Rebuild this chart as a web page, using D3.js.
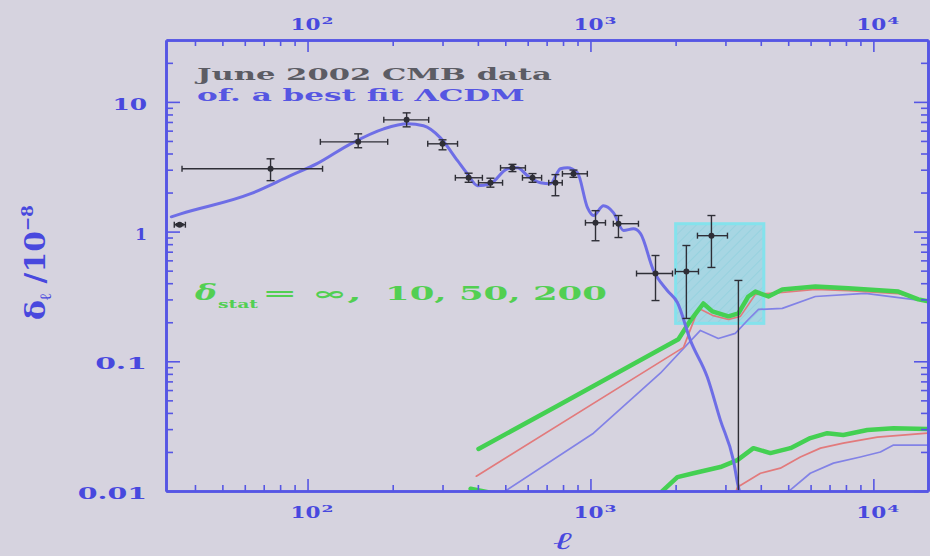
<!DOCTYPE html>
<html>
<head>
<meta charset="utf-8">
<script src="https://cdn.jsdelivr.net/npm/d3@7"></script>
<style>
  html, body { margin: 0; padding: 0; background: #d6d3df; }
  svg { display: block; }
</style>
</head>
<body>
<svg id="chart" width="930" height="556"></svg>
<script>
// ---- axis ticks -------------------------------------------------------
const xTickValues = [100, 1000, 10000];
const xTickExponents = ["2", "3", "4"];
const yTickValues = [0.01, 0.1, 1, 10];
const yTickLabels = ["0.01", "0.1", "1", "10"];

// ---- June 2002 bandpowers (multipole, range, amplitude, error range) ----
const bandL   = [35.3, 74, 151, 224, 300, 371, 443, 530, 624, 752, 871, 1042, 1256, 1698, 2183, 2677, 3334];
const bandLlo = [33.8, 36, 111, 186, 266, 333, 402, 481, 575, 712, 796, 960, 1205, 1455, 1995, 2389, 3334];
const bandLhi = [37.0, 113, 192, 268, 339, 415, 489, 589, 672, 795, 975, 1130, 1478, 1950, 2409, 3050, 3334];
const bandV   = [1.13, 3.05, 4.92, 7.27, 4.75, 2.60, 2.38, 3.10, 2.60, 2.38, 2.79, 1.17, 1.15, 0.475, 0.492, 0.93, 0.004];
const bandVlo = [1.11, 2.47, 4.43, 6.42, 4.27, 2.40, 2.20, 2.90, 2.40, 1.89, 2.62, 0.85, 0.90, 0.294, 0.214, 0.529, 0.0005];
const bandVhi = [1.15, 3.64, 5.67, 8.23, 5.10, 2.82, 2.58, 3.30, 2.80, 2.75, 2.98, 1.45, 1.33, 0.654, 0.781, 1.33, 0.42];

// ---- best fit ΛCDM spectrum ------------------------------------------------
const lcdmL = [33, 35.6, 63, 87, 108, 142, 186, 226, 257, 295, 339, 367, 399, 443, 509, 552, 599, 666, 722, 783, 829, 900, 976, 1025, 1112, 1205, 1309, 1419, 1503, 1671, 1872, 2029, 2256, 2590, 2879, 3200, 3334, 3420];
const lcdmV = [1.30, 1.37, 1.96, 2.70, 3.34, 4.75, 6.20, 6.77, 6.54, 5.28, 3.52, 2.79, 2.26, 2.34, 3.05, 3.11, 2.70, 2.38, 2.34, 3.05, 3.11, 2.84, 1.53, 1.33, 1.58, 1.40, 1.02, 1.05, 0.965, 0.50, 0.35, 0.284, 0.145, 0.0753, 0.0352, 0.0173, 0.0107, 0.009];

// ---- secondary spectra, upper family ------------------------------------
const greenHiL = [402, 783, 1352, 2046, 2256, 2506, 2698, 3073, 3334, 3615, 3829, 4256, 4766, 6237, 8161, 12250, 14420, 15630];
const greenHiV = [0.0211, 0.0467, 0.090, 0.1477, 0.206, 0.279, 0.2425, 0.222, 0.234, 0.316, 0.345, 0.316, 0.358, 0.378, 0.365, 0.345, 0.300, 0.290];
const redHiL   = [395, 2133, 2409, 2698, 3073, 3388, 3829, 4766, 6237, 8161, 12250, 15630];
const redHiV   = [0.0130, 0.128, 0.256, 0.226, 0.210, 0.222, 0.328, 0.339, 0.358, 0.351, 0.333, 0.284];
const blueHiL  = [493, 1025, 1766, 2447, 2832, 3251, 3615, 3926, 4766, 6237, 9375, 15630];
const blueHiV  = [0.0098, 0.0279, 0.0809, 0.173, 0.150, 0.164, 0.210, 0.251, 0.256, 0.316, 0.334, 0.290];

// ---- secondary spectra, lower family ------------------------------------
const greenLoL = [377, 443, 700, 1300, 1766, 2029, 2312, 2879, 3306, 3767, 4325, 5093, 5984, 6871, 7829, 9524, 11780, 15520];
const greenLoV = [0.0104, 0.0097, 0.0090, 0.0093, 0.00966, 0.0128, 0.0137, 0.0153, 0.0173, 0.0214, 0.0196, 0.0214, 0.0256, 0.0279, 0.0270, 0.0295, 0.0305, 0.0300];
const redLoL   = [3251, 3306, 3990, 4690, 5521, 6502, 7829, 10330, 15520];
const redLoV   = [0.0095, 0.0107, 0.0137, 0.0150, 0.0183, 0.0214, 0.0234, 0.0260, 0.0279];
const blueLoL  = [4870, 5093, 5984, 7228, 8995, 10590, 11780, 15520];
const blueLoV  = [0.0097, 0.0102, 0.0137, 0.0164, 0.0183, 0.0200, 0.0226, 0.0226];

// ---- highlighted window ---------------------------------------------------
const boxL = [2000, 4100];
const boxV = [0.196, 1.15];

// ====================================================================
const svg = d3.select("#chart");
const frame = { left: 166, right: 928, top: 40, bottom: 491 };

const x = d3.scaleLog().domain([31.6, 15600]).range([frame.left, frame.right]);
const y = d3.scaleLog().domain([0.01, 30]).range([frame.bottom, frame.top]);

const axisBlue = "#5656e4";
const labelBlue = "#4848de";

svg.append("rect").attr("width", 930).attr("height", 556).attr("fill", "#d6d3df");

const defs = svg.append("defs");
defs.append("clipPath").attr("id", "plotClip")
  .append("rect")
  .attr("x", frame.left).attr("y", frame.top)
  .attr("width", frame.right - frame.left).attr("height", frame.bottom - frame.top);

const hatch = defs.append("pattern").attr("id", "hatch")
  .attr("patternUnits", "userSpaceOnUse").attr("width", 7).attr("height", 7)
  .attr("patternTransform", "rotate(45)");
hatch.append("line").attr("x1", 0).attr("y1", 0).attr("x2", 0).attr("y2", 7)
  .attr("stroke", "#8ccfdc").attr("stroke-width", 1.6);

const plot = svg.append("g").attr("clip-path", "url(#plotClip)");

// highlighted window
const bx = x(boxL[0]), bw = x(boxL[1]) - x(boxL[0]);
const by = y(boxV[1]), bh = y(boxV[0]) - y(boxV[1]);
plot.append("rect").attr("x", bx).attr("y", by).attr("width", bw).attr("height", bh)
  .attr("fill", "rgba(120,218,232,0.5)");
plot.append("rect").attr("x", bx).attr("y", by).attr("width", bw).attr("height", bh)
  .attr("fill", "url(#hatch)").attr("opacity", 0.8);
plot.append("rect").attr("x", bx).attr("y", by).attr("width", bw).attr("height", bh)
  .attr("fill", "none").attr("stroke", "#84e2ec").attr("stroke-width", 3);

const smoothLine = d3.line()
  .x(d => x(d[0])).y(d => y(d[1]))
  .curve(d3.curveMonotoneX);
const straightLine = d3.line()
  .x(d => x(d[0])).y(d => y(d[1]));

function curve(ls, vs, color, width, gen) {
  plot.append("path").datum(d3.zip(ls, vs))
    .attr("d", gen || straightLine).attr("fill", "none")
    .attr("stroke", color).attr("stroke-width", width)
    .attr("stroke-linejoin", "round").attr("stroke-linecap", "round");
}

const green = "#44d052", red = "#e27a7c", blueThin = "#8282e6";
curve(blueLoL, blueLoV, blueThin, 1.7);
curve(redLoL, redLoV, red, 1.7);
curve(greenLoL, greenLoV, green, 4.5);
curve(blueHiL, blueHiV, blueThin, 1.7);
curve(redHiL, redHiV, red, 1.7);
curve(greenHiL, greenHiV, green, 4.5);

// best fit model
curve(lcdmL, lcdmV, "#6e6ee6", 3, smoothLine);

// bandpowers with error bars
const ink = "#2e2e36";
const bands = d3.range(bandL.length).map(i => ({
  l: bandL[i], l0: bandLlo[i], l1: bandLhi[i],
  v: bandV[i], v0: bandVlo[i], v1: bandVhi[i]
}));
const eb = plot.append("g").attr("stroke", ink).attr("stroke-width", 1.4).attr("fill", "none");
bands.forEach(d => {
  const cx = x(d.l), cy = y(d.v);
  if (d.l1 > d.l0) {
    eb.append("line").attr("x1", x(d.l0)).attr("x2", x(d.l1)).attr("y1", cy).attr("y2", cy);
    eb.append("line").attr("x1", x(d.l0)).attr("x2", x(d.l0)).attr("y1", cy - 3).attr("y2", cy + 3);
    eb.append("line").attr("x1", x(d.l1)).attr("x2", x(d.l1)).attr("y1", cy - 3).attr("y2", cy + 3);
  }
  eb.append("line").attr("x1", cx).attr("x2", cx).attr("y1", y(d.v0)).attr("y2", y(d.v1));
  eb.append("line").attr("x1", cx - 4).attr("x2", cx + 4).attr("y1", y(d.v0)).attr("y2", y(d.v0));
  eb.append("line").attr("x1", cx - 4).attr("x2", cx + 4).attr("y1", y(d.v1)).attr("y2", y(d.v1));
  plot.append("circle").attr("cx", cx).attr("cy", cy).attr("r", 3).attr("fill", ink);
});

// ---- axes (ticks on all four sides, pointing inward) ----------------------
function minorTicks(domain) {
  const out = [];
  for (let e = -3; e <= 5; e++) for (let m = 2; m <= 9; m++) {
    const v = m * Math.pow(10, e);
    if (v > domain[0] && v < domain[1]) out.push(v);
  }
  return out;
}
const xMinor = minorTicks(x.domain());
const yMinor = minorTicks(y.domain());

function styleAxis(g) {
  g.select(".domain").attr("stroke", axisBlue).attr("stroke-width", 2.6);
  g.selectAll(".tick line").attr("stroke", axisBlue).attr("stroke-width", 1.6);
  g.selectAll(".tick text").remove();
}
function addAxis(maker, scale, values, size, transform) {
  svg.append("g").attr("transform", transform)
    .call(maker(scale).tickValues(values).tickSize(-size).tickSizeOuter(0).tickFormat(""))
    .call(styleAxis);
}
[[d3.axisBottom, `translate(0,${frame.bottom})`], [d3.axisTop, `translate(0,${frame.top})`]]
  .forEach(([m, t]) => { addAxis(m, x, xMinor, 6, t); addAxis(m, x, xTickValues, 12, t); });
[[d3.axisLeft, `translate(${frame.left},0)`], [d3.axisRight, `translate(${frame.right},0)`]]
  .forEach(([m, t]) => { addAxis(m, y, yMinor, 7, t); addAxis(m, y, yTickValues, 14, t); });

// ---- text helpers ------------------------------------------------------------
function fitText(sel, px, py, width, rot) {
  const len = sel.node().getComputedTextLength();
  sel.attr("transform", `translate(${px},${py})${rot ? ` rotate(${rot})` : ""} scale(${width / len},1)`);
  return sel;
}
function label(str, opts) {
  return svg.append("text").text(str)
    .attr("font-family", opts.family || "DejaVu Serif")
    .attr("font-size", opts.size)
    .attr("font-weight", opts.weight || "bold")
    .attr("font-style", opts.style || "normal")
    .attr("fill", opts.color)
    .attr("text-anchor", opts.anchor || "start");
}

// x tick labels, top and bottom
xTickValues.forEach((v, i) => {
  [30, 518].forEach(base => {
    fitText(label("10", { size: 16, color: labelBlue }), x(v) - 17, base, 30);
    fitText(label(xTickExponents[i], { size: 10, color: labelBlue }), x(v) + 14, base - 6, 12);
  });
});

// y tick labels
yTickValues.forEach((v, i) => {
  const s = yTickLabels[i];
  const w = s === "1" ? 12 : s.length * 17.3;
  fitText(label(s, { size: 16, color: labelBlue, anchor: "end" }), 147, y(v) + 8, w);
});

// axis titles
fitText(label("ℓ", { size: 24, color: labelBlue, style: "italic", weight: "normal" }), 553, 549, 19);

const yTitle = svg.append("text")
  .attr("font-family", "DejaVu Serif").attr("font-size", 28).attr("font-weight", "bold")
  .attr("fill", labelBlue);
yTitle.append("tspan").text("δ");
yTitle.append("tspan").text("ℓ").attr("font-size", 16).attr("dy", 6);
yTitle.append("tspan").text(" /10").attr("dy", -6);
yTitle.append("tspan").text("−8").attr("font-size", 16).attr("dy", -12);
fitText(yTitle, 45, 320, 115, -90);

// annotation
fitText(label("June 2002 CMB data", { size: 16.5, color: "#5c5c64" }), 197, 80, 355);
fitText(label("of. a best fit ΛCDM", { size: 16.5, color: "#5656e2" }), 197, 101, 328);

// legend for the secondary spectra
const legGreen = "#52cf52";
fitText(label("δ", { size: 22, color: legGreen, style: "italic" }), 195, 300, 22);
fitText(label("stat", { size: 11, color: legGreen }), 218, 308, 40);
fitText(label("= ∞,", { size: 18, color: legGreen }), 262, 300, 100);
fitText(label("10, 50, 200", { size: 18, color: legGreen }), 385, 300, 222);
</script>
</body>
</html>
